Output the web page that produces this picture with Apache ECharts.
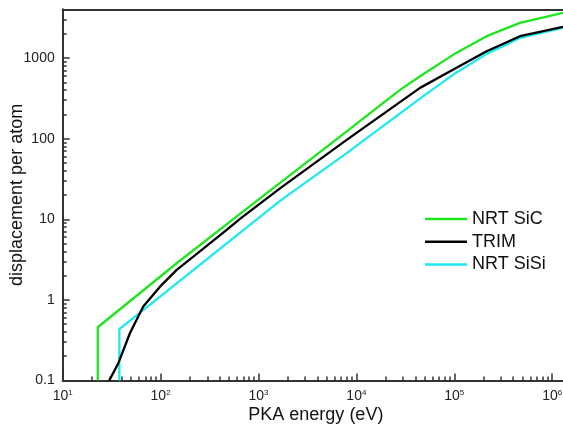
<!DOCTYPE html>
<html>
<head>
<meta charset="utf-8">
<script src="https://cdn.jsdelivr.net/npm/echarts@6/dist/echarts.min.js"></script>
<style>
html,body{margin:0;padding:0;background:#fff;}
#chart{width:563px;height:427px;}
</style>
</head>
<body>
<div id="chart"></div>
<script>
// ---- data ----
const seriesNames = ['NRT SiC', 'TRIM', 'NRT SiSi'];

const sicE = [22.8, 22.8, 146, 647, 1658, 6800, 27900, 44700, 97800, 214000, 469000, 1290000];
const sicV = [0.1, 0.458, 2.85, 11.7, 28.3, 106, 403, 596, 1105, 1870, 2735, 3640];

const trimE = [29.9, 37.0, 48.6, 66.5, 98.6, 146, 216, 473, 647, 1658, 7960, 44700, 97800, 214000, 469000, 1290000];
const trimV = [0.1, 0.164, 0.386, 0.826, 1.46, 2.36, 3.44, 7.39, 10.1, 24.2, 96.6, 427, 720, 1218, 1870, 2440];

const sisiE = [37.9, 37.9, 1658, 7960, 48200, 97800, 214000, 469000, 1290000];
const sisiV = [0.1, 0.433, 16.9, 66.1, 337, 624, 1128, 1782, 2370];

const xMajorTicks = [10, 100, 1000, 10000, 100000, 1000000];
const xTickExponents = ['1', '2', '3', '4', '5', '6'];
const yMajorTicks = [0.1, 1, 10, 100, 1000];
const yTickLabels = ['0.1', '1', '10', '100', '1000'];
const minorMultipliers = [2, 3, 4, 5, 6, 7, 8, 9];

const xMin = 10, xMax = 1290000, yMin = 0.1, yMax = 4030;

// ---- build ----
function minorTicks(majors, lo, hi) {
  const out = [];
  majors.concat([majors[majors.length - 1] * 10]).forEach(function (m) {
    minorMultipliers.forEach(function (k) {
      const v = m * k;
      if (v > lo && v < hi) out.push(v);
    });
  });
  return out;
}
function pairs(xs, ys) { return xs.map(function (x, i) { return [x, ys[i]]; }); }
function nearestIdx(arr, v) {
  let best = 0, bd = Infinity;
  arr.forEach(function (a, i) { const d = Math.abs(Math.log10(a) - Math.log10(v)); if (d < bd) { bd = d; best = i; } });
  return best;
}

const FONT = '"Liberation Sans", Arial, sans-serif';
const AX = '#333333';

const chart = echarts.init(document.getElementById('chart'), null, {renderer: 'canvas'});
chart.setOption({
  animation: false,
  backgroundColor: '#ffffff',
  grid: {left: 62.7, top: 9.3, right: 0, bottom: 46.5, containLabel: false, outerBoundsMode: 'none'},
  legend: {
    data: seriesNames,
    orient: 'vertical',
    left: 425, top: 210,
    padding: 0,
    itemGap: 4.7,
    icon: 'rect',
    itemWidth: 42, itemHeight: 2.5,
    textStyle: {fontFamily: FONT, fontSize: 18, color: '#111'}
  },
  xAxis: [
    {
      type: 'log', position: 'bottom', min: xMin, max: xMax,
      name: 'PKA energy (eV)', nameLocation: 'middle', nameGap: 26, nameMoveOverlap: false,
      nameTextStyle: {fontFamily: FONT, fontSize: 18, color: '#111', padding: [0, 0, 0, 6]},
      axisLine: {show: true, lineStyle: {color: AX, width: 2}},
      axisTick: {show: true, inside: true, length: 7, lineStyle: {color: AX, width: 1.5}, customValues: xMajorTicks},
      axisLabel: {
        show: true, margin: 8, customValues: xMajorTicks,
        formatter: function (v) { return '{b|10}{s|' + xTickExponents[nearestIdx(xMajorTicks, v)] + '}'; },
        rich: {
          b: {fontFamily: FONT, fontSize: 14, color: '#222', lineHeight: 16},
          s: {fontFamily: FONT, fontSize: 8, color: '#222', lineHeight: 10, verticalAlign: 'top'}
        }
      },
      splitLine: {show: false}, minorTick: {show: false}
    },
    {
      type: 'log', position: 'bottom', min: xMin, max: xMax,
      axisLine: {show: false},
      axisTick: {show: true, inside: true, length: 4, lineStyle: {color: AX, width: 1.5}, customValues: minorTicks(xMajorTicks, xMin, xMax)},
      axisLabel: {show: false},
      splitLine: {show: false}
    },
    {
      type: 'log', position: 'top', min: xMin, max: xMax,
      axisLine: {show: true, lineStyle: {color: AX, width: 2}},
      axisTick: {show: false}, axisLabel: {show: false}, splitLine: {show: false}
    }
  ],
  yAxis: [
    {
      type: 'log', position: 'left', min: yMin, max: yMax,
      name: 'displacement per atom', nameLocation: 'middle', nameGap: 37, nameMoveOverlap: false,
      nameTextStyle: {fontFamily: FONT, fontSize: 18, color: '#111'},
      axisLine: {show: true, lineStyle: {color: AX, width: 2}},
      axisTick: {show: true, inside: true, length: 7, lineStyle: {color: AX, width: 1.5}, customValues: yMajorTicks},
      axisLabel: {
        show: true, margin: 8, customValues: yMajorTicks,
        fontFamily: FONT, fontSize: 14, color: '#222',
        formatter: function (v) { return yTickLabels[nearestIdx(yMajorTicks, v)]; }
      },
      splitLine: {show: false}
    },
    {
      type: 'log', position: 'left', min: yMin, max: yMax,
      axisLine: {show: false},
      axisTick: {show: true, inside: true, length: 4, lineStyle: {color: AX, width: 1.5}, customValues: minorTicks(yMajorTicks, yMin, yMax)},
      axisLabel: {show: false},
      splitLine: {show: false}
    }
  ],
  series: [
    {name: 'NRT SiSi', type: 'line', xAxisIndex: 0, yAxisIndex: 0, symbol: 'none', clip: true,
     lineStyle: {color: '#1ee8f0', width: 2.3}, itemStyle: {color: '#1ee8f0'}, data: pairs(sisiE, sisiV)},
    {name: 'NRT SiC', type: 'line', xAxisIndex: 0, yAxisIndex: 0, symbol: 'none', clip: true,
     lineStyle: {color: '#1ee61e', width: 2.3}, itemStyle: {color: '#1ee61e'}, data: pairs(sicE, sicV)},
    {name: 'TRIM', type: 'line', xAxisIndex: 0, yAxisIndex: 0, symbol: 'none', clip: true,
     lineStyle: {color: '#000000', width: 2.3}, itemStyle: {color: '#000000'}, data: pairs(trimE, trimV)}
  ]
});
</script>
</body>
</html>
